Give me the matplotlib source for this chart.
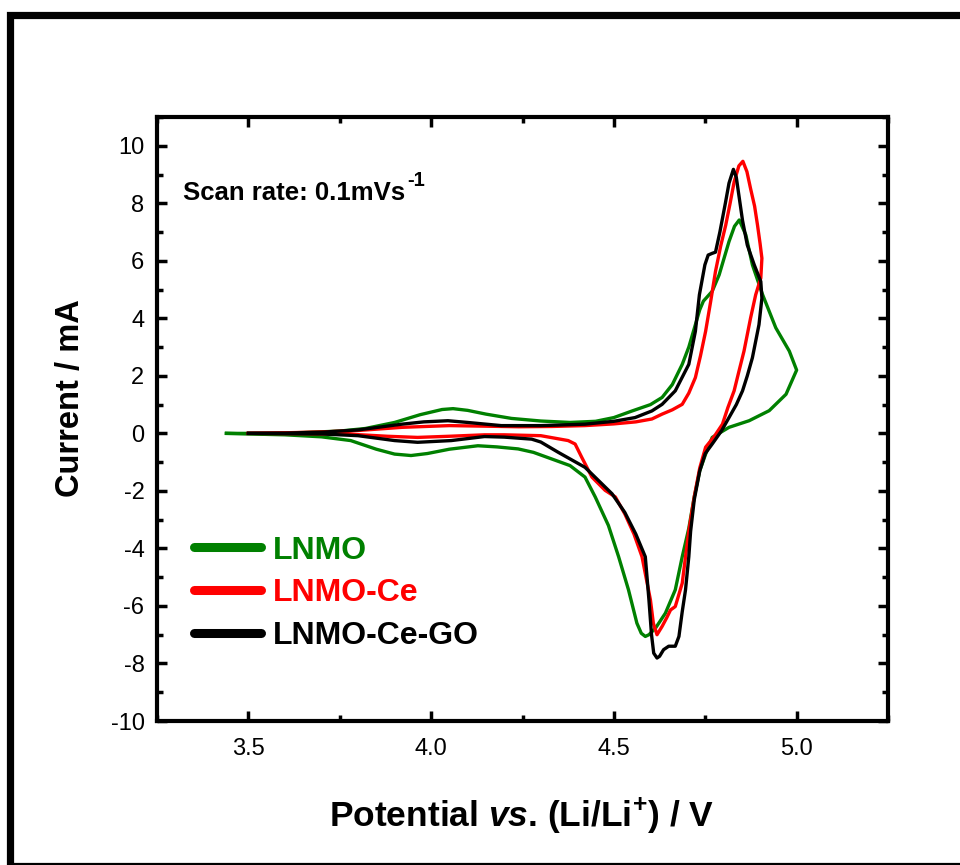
import matplotlib
matplotlib.use("Agg")
import matplotlib.pyplot as plt
from matplotlib.patches import Rectangle
from matplotlib.ticker import MultipleLocator

plt.rcParams['font.family'] = ['Liberation Sans', 'DejaVu Sans']
plt.rcParams['axes.unicode_minus'] = False
plt.rcParams['mathtext.fontset'] = 'custom'
plt.rcParams['mathtext.rm'] = 'Liberation Sans'
plt.rcParams['mathtext.bf'] = 'Liberation Sans:bold'
plt.rcParams['mathtext.it'] = 'Liberation Sans:italic:bold'
plt.rcParams['mathtext.default'] = 'bf'

# ---------------- data (scan order: anodic sweep then cathodic return) -------
lnmo_v = [3.44, 3.55, 3.65, 3.75, 3.82, 3.90, 3.97, 4.03, 4.06, 4.10, 4.15, 4.22,
          4.30, 4.38, 4.45, 4.50, 4.55, 4.60, 4.632, 4.66, 4.687, 4.705, 4.723,
          4.735, 4.745, 4.769, 4.788, 4.815, 4.83, 4.843, 4.861, 4.879, 4.907,
          4.943, 4.98, 5.0,
          4.971, 4.925, 4.87, 4.815, 4.769, 4.751, 4.735, 4.72, 4.705, 4.687,
          4.668, 4.641, 4.614, 4.596, 4.586, 4.575, 4.563, 4.54, 4.513, 4.485,
          4.449, 4.421, 4.38, 4.33, 4.28, 4.238, 4.18, 4.128, 4.05, 3.99, 3.945,
          3.90, 3.85, 3.78, 3.70, 3.60, 3.50, 3.44]
lnmo_i = [0.0, 0.0, 0.03, 0.08, 0.17, 0.38, 0.65, 0.83, 0.86, 0.80, 0.67, 0.52,
          0.43, 0.38, 0.42, 0.55, 0.78, 1.0, 1.25, 1.7, 2.4, 3.0, 3.78,
          4.3, 4.6, 4.94, 5.51, 6.67, 7.2, 7.42, 6.9, 5.86, 4.82,
          3.67, 2.86, 2.2,
          1.36, 0.79, 0.44, 0.21, -0.14, -0.72, -1.3, -2.2, -3.3, -4.29,
          -5.44, -6.25, -6.77, -7.0, -7.06, -6.95, -6.6, -5.44, -4.29, -3.2,
          -2.21, -1.52, -1.12, -0.89, -0.66, -0.54, -0.47, -0.43, -0.55, -0.70, -0.77,
          -0.72, -0.55, -0.25, -0.12, -0.05, -0.02, 0.0]

ce_v = [3.50, 3.60, 3.70, 3.80, 3.92, 4.05, 4.15, 4.24, 4.33, 4.42, 4.50, 4.56,
        4.604, 4.632, 4.66, 4.687, 4.705, 4.723, 4.737, 4.751, 4.765, 4.778,
        4.792, 4.806, 4.818, 4.829, 4.842, 4.853, 4.864, 4.874, 4.885, 4.893,
        4.90, 4.905,
        4.902, 4.888, 4.874, 4.856, 4.842, 4.829, 4.812, 4.797, 4.775, 4.751,
        4.735, 4.72, 4.705, 4.696, 4.687, 4.668, 4.655, 4.645, 4.632, 4.618,
        4.608, 4.60, 4.577, 4.555, 4.53, 4.504, 4.476, 4.44, 4.412, 4.394,
        4.375, 4.30, 4.20, 4.146, 4.05, 3.963, 3.88, 3.78, 3.65, 3.50]
ce_i = [0.0, 0.02, 0.05, 0.10, 0.21, 0.27, 0.25, 0.23, 0.24, 0.27, 0.33, 0.40,
        0.50, 0.67, 0.82, 1.01, 1.4, 1.94, 2.7, 3.55, 4.6, 5.63,
        6.5, 7.24, 8.0, 8.74, 9.3, 9.46, 9.1, 8.51, 7.9, 7.24,
        6.6, 6.09,
        5.4, 4.82, 4.01, 2.86, 2.15, 1.48, 0.9, 0.32, -0.1, -0.48,
        -1.2, -2.2, -3.4, -4.29, -5.21, -6.02, -6.14, -6.4, -6.71, -7.0,
        -6.6, -5.79, -4.29, -3.5, -2.8, -2.21, -1.98, -1.52, -0.83, -0.37,
        -0.25, -0.08, -0.05, -0.05, -0.10, -0.14, -0.10, -0.03, -0.01, 0.0]

go_v = [3.50, 3.60, 3.70, 3.80, 3.92, 3.98, 4.046, 4.10, 4.192, 4.30, 4.421,
        4.50, 4.558, 4.604, 4.632, 4.668, 4.705, 4.723, 4.734, 4.749, 4.758,
        4.769, 4.778, 4.79, 4.805, 4.815, 4.827, 4.835, 4.842, 4.852, 4.865,
        4.884, 4.902,
        4.905, 4.897, 4.879, 4.865, 4.852, 4.835, 4.815, 4.795, 4.769, 4.75,
        4.735, 4.72, 4.71, 4.705, 4.696, 4.687, 4.678, 4.668, 4.65, 4.636,
        4.625, 4.618, 4.609, 4.603, 4.596, 4.586, 4.56, 4.53, 4.495, 4.421, 4.348,
        4.30, 4.275, 4.20, 4.146, 4.055, 3.963, 3.90, 3.80, 3.70, 3.50]
go_i = [0.0, 0.01, 0.04, 0.12, 0.32, 0.40, 0.44, 0.38, 0.27, 0.27, 0.32,
        0.42, 0.55, 0.78, 1.01, 1.48, 2.4, 3.55, 4.82, 5.86, 6.2,
        6.26, 6.3, 7.0, 8.0, 8.7, 9.18, 8.9, 8.28, 7.4, 6.55,
        5.86, 5.28,
        4.7, 3.78, 2.63, 2.0, 1.48, 1.0, 0.55, 0.1, -0.37, -0.7,
        -1.3, -2.3, -3.4, -4.29, -5.44, -6.2, -7.06, -7.4, -7.4, -7.52,
        -7.75, -7.81, -7.64, -7.0, -5.8, -4.29, -3.5, -2.75, -2.1, -1.18, -0.66,
        -0.3, -0.2, -0.13, -0.11, -0.25, -0.31, -0.25, -0.08, -0.02, 0.0]

labels = ['LNMO', 'LNMO-Ce', 'LNMO-Ce-GO']
colors = ['#008000', '#ff0000', '#000000']
series = [(lnmo_v, lnmo_i), (ce_v, ce_i), (go_v, go_i)]

x_ticks = [3.5, 4.0, 4.5, 5.0]
y_ticks = [-10, -8, -6, -4, -2, 0, 2, 4, 6, 8, 10]

# ---------------- figure ------------------------------------------------------
fig = plt.figure(figsize=(9.6, 8.65), dpi=100)
ax = fig.add_axes([157/960, 1 - 721/865, (888-157)/960, (721-117)/865])

handles = []
for (v, i), c, lab in zip(series, colors, labels):
    h, = ax.plot(v, i, color=c, lw=2.4, solid_joinstyle='round', label=lab)
    handles.append(h)

ax.set_xlim(3.25, 5.25)
ax.set_ylim(-10, 11)
ax.set_xticks(x_ticks)
ax.set_xticklabels([f"{t:.1f}" for t in x_ticks])
ax.set_yticks(y_ticks)
ax.set_yticklabels([str(t) for t in y_ticks])
ax.xaxis.set_minor_locator(MultipleLocator(0.25))
ax.yaxis.set_minor_locator(MultipleLocator(1))
ax.tick_params(which='both', direction='in', top=True, right=True, width=2.5)
ax.tick_params(which='major', length=7, labelsize=17)
ax.tick_params(axis='x', which='major', pad=12)
ax.tick_params(axis='y', which='major', pad=9)
ax.tick_params(which='minor', length=4)
for s in ax.spines.values():
    s.set_linewidth(3)

ax.set_ylabel('Current / mA', fontsize=23.5, fontweight='bold')
ax.yaxis.label.set_va('center')
ax.yaxis.set_label_coords(-0.118, 0.535)
ax.set_xlabel(r'Potential $\mathit{vs}$. (Li/Li$^{+}$) / V', fontsize=25.5, fontweight='bold')
ax.xaxis.label.set_va('center')
ax.xaxis.set_label_coords(0.498, -0.157)

t_scan = ax.text(0.036, 0.862, 'Scan rate: 0.1mVs', transform=ax.transAxes,
                 fontsize=18.5, fontweight='bold', ha='left', va='baseline')
ax.annotate('-1', xy=(1.0, 0.62), xycoords=t_scan, xytext=(1.5, 0),
            textcoords='offset points', fontsize=14.5, fontweight='bold',
            ha='left', va='bottom')

leg = ax.legend(handles=handles, labels=labels, loc='upper left',
                bbox_to_anchor=(0.05, 0.307), frameon=False,
                prop={'weight': 'bold', 'size': 23}, labelcolor=colors,
                handlelength=2.1, handletextpad=0.38, labelspacing=0.4,
                borderpad=0, borderaxespad=0)
for ln in leg.get_lines():
    ln.set_linewidth(6.5)
    ln.set_solid_capstyle('round')

# thick frame around the figure (right/bottom edges run off the canvas)
fig.patches.append(Rectangle((9.5/960, 1 - 866/865), 1.0, (866 - 15)/865,
                             transform=fig.transFigure, fill=False,
                             edgecolor='black', linewidth=5.2))

fig.savefig('out.png', dpi=100)
